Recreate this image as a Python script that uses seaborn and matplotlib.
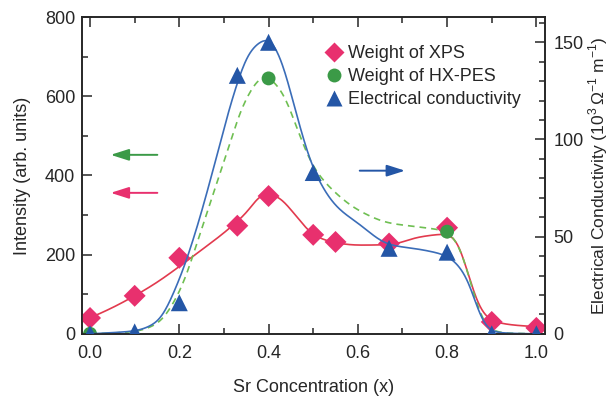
import numpy as np
import matplotlib.pyplot as plt
import pandas as pd
import seaborn as sns
from matplotlib.lines import Line2D
from matplotlib.ticker import MultipleLocator

# measured points
x_xps = [0.0, 0.1, 0.2, 0.33, 0.4, 0.5, 0.55, 0.67, 0.8, 0.9, 1.0]
y_xps = [40, 96, 192, 273, 348, 250, 232, 228, 268, 30, 15]

x_hx = [0.0, 0.4, 0.8]
y_hx = [0, 645, 258]

x_cond = [0.0, 0.1, 0.2, 0.33, 0.4, 0.5, 0.67, 0.8, 0.9, 1.0]
y_cond = [0, 1, 16, 133, 150, 83, 44, 42, 0, 0]

# guide curves
cx_xps = [0.0, 0.05, 0.1, 0.15, 0.2, 0.25, 0.3, 0.35, 0.39, 0.42, 0.46, 0.5, 0.55, 0.6, 0.67, 0.74, 0.8, 0.82, 0.85, 0.875, 0.9, 0.95, 1.0]
cy_xps = [40, 66, 96, 130, 170, 212, 255, 305, 355, 347, 300, 250, 230, 224, 225, 245, 252, 240, 140, 60, 33, 22, 18]

cx_hx = [0.0, 0.05, 0.1, 0.15, 0.2, 0.25, 0.3, 0.35, 0.39, 0.43, 0.47, 0.5, 0.55, 0.6, 0.67, 0.75, 0.8, 0.83, 0.85, 0.865, 0.89, 0.93, 1.0]
cy_hx = [0, 2, 6, 25, 105, 265, 435, 595, 652, 612, 500, 422, 356, 313, 280, 268, 258, 215, 140, 80, 15, 2, 0]

cx_cond = [0.0, 0.05, 0.1, 0.15, 0.2, 0.24, 0.28, 0.32, 0.36, 0.4, 0.43, 0.46, 0.5, 0.55, 0.6, 0.67, 0.75, 0.8, 0.83, 0.85, 0.865, 0.88, 0.9, 0.95, 1.0]
cy_cond = [0, 0.6, 1.5, 6, 28, 55, 88, 122, 146, 152, 140, 115, 85, 66, 57, 46, 43, 40, 34, 26, 15, 6, 1.2, 0.2, 0]


def pchip(xk, yk, xs):
    # shape preserving cubic through the read points
    xk = np.asarray(xk, float)
    yk = np.asarray(yk, float)
    h = np.diff(xk)
    d = np.diff(yk) / h
    m = np.zeros_like(yk)
    for i in range(1, len(xk) - 1):
        if d[i - 1] * d[i] > 0:
            w1 = 2 * h[i] + h[i - 1]
            w2 = h[i] + 2 * h[i - 1]
            m[i] = (w1 + w2) / (w1 / d[i - 1] + w2 / d[i])
    m[0] = d[0]
    m[-1] = d[-1]
    idx = np.clip(np.searchsorted(xk, xs) - 1, 0, len(h) - 1)
    t = (xs - xk[idx]) / h[idx]
    h00 = 2 * t**3 - 3 * t**2 + 1
    h10 = t**3 - 2 * t**2 + t
    h01 = -2 * t**3 + 3 * t**2
    h11 = t**3 - t**2
    return h00 * yk[idx] + h10 * h[idx] * m[idx] + h01 * yk[idx + 1] + h11 * h[idx] * m[idx + 1]


def smooth(y, sig=6):
    # soften the corners left at the knots
    k = np.arange(-3 * sig, 3 * sig + 1)
    w = np.exp(-0.5 * (k / sig) ** 2)
    w /= w.sum()
    yp = np.pad(y, 3 * sig, mode='edge')
    return np.convolve(yp, w, mode='valid')


sns.set_style("ticks")
plt.rcParams['font.family'] = ['Liberation Sans', 'DejaVu Sans']
plt.rcParams['mathtext.fontset'] = 'custom'
plt.rcParams['mathtext.rm'] = 'Liberation Sans'

pink = '#e8306e'
red = '#e23a4e'
green = '#3b9a47'
green_l = '#6fbf52'
blue = '#2456a6'
blue_l = '#3b6db8'

fig = plt.figure(figsize=(6.12, 3.96), dpi=100)
ax = fig.add_axes([0.134, 0.157, 0.757, 0.800])
ax2 = ax.twinx()

xs = np.linspace(0, 1, 500)
df_curves = pd.DataFrame({
    'x': xs,
    'xps': smooth(pchip(cx_xps, cy_xps, xs)),
    'hx': smooth(pchip(cx_hx, cy_hx, xs)),
    'cond': smooth(pchip(cx_cond, cy_cond, xs)),
})

sns.lineplot(data=df_curves, x='x', y='xps', ax=ax, color=red, lw=1.2)
sns.lineplot(data=df_curves, x='x', y='hx', ax=ax, color=green_l, lw=1.2, linestyle=(0, (4, 3)))
sns.lineplot(data=df_curves, x='x', y='cond', ax=ax2, color=blue_l, lw=1.2)

sns.scatterplot(x=x_xps, y=y_xps, ax=ax, marker='D', s=125, color=pink, edgecolor='none', zorder=5)
sns.scatterplot(x=x_hx, y=y_hx, ax=ax, marker='o', s=100, color=green, edgecolor='none', zorder=5)
sns.scatterplot(x=x_cond, y=y_cond, ax=ax2, marker='^', s=150, color=blue, edgecolor='none', zorder=5)

ax.set_xlim(-0.018, 1.02)
ax.set_ylim(0, 800)
ax2.set_ylim(0, 163)

ax.xaxis.set_major_locator(MultipleLocator(0.2))
ax.xaxis.set_minor_locator(MultipleLocator(0.1))
ax.yaxis.set_major_locator(MultipleLocator(200))
ax.yaxis.set_minor_locator(MultipleLocator(100))
ax2.yaxis.set_major_locator(MultipleLocator(50))
ax2.yaxis.set_minor_locator(MultipleLocator(10))
ax.xaxis.set_major_formatter(plt.FuncFormatter(lambda v, p: f'{v:.1f}'))

ax.tick_params(axis='x', which='both', direction='in', top=True, labelsize=13, width=1.1, pad=8)
ax.tick_params(axis='y', which='both', direction='in', right=False, labelsize=13, width=1.1, pad=5)
ax.tick_params(which='major', length=7)
ax.tick_params(which='minor', length=4)
ax2.tick_params(axis='y', which='both', direction='in', labelsize=13, width=1.1, pad=6)
ax2.tick_params(which='major', length=7)
ax2.tick_params(which='minor', length=4)
for a in (ax, ax2):
    for s in a.spines.values():
        s.set_linewidth(1.2)
        s.set_visible(True)

ax.set_xlabel('Sr Concentration (x)', fontsize=13, labelpad=12)
ax.set_ylabel('Intensity (arb. units)', fontsize=13, labelpad=10)
ax2.set_ylabel(r'Electrical Conductivity (10$^3\,\Omega^{-1}$ m$^{-1}$)', fontsize=12.5, labelpad=2)

# arrows pointing to the axes
head = '-|>,head_length=1.1,head_width=0.35'
ax.annotate('', xy=(0.04, 452), xytext=(0.157, 452),
            arrowprops=dict(arrowstyle=head, color=green, lw=1.4))
ax.annotate('', xy=(0.04, 356), xytext=(0.157, 356),
            arrowprops=dict(arrowstyle=head, color=pink, lw=1.4))
ax.annotate('', xy=(0.712, 412), xytext=(0.598, 412),
            arrowprops=dict(arrowstyle=head, color=blue, lw=1.4))

handles = [
    Line2D([], [], ls='none', marker='D', ms=10, color=pink, mec='none', label='Weight of XPS'),
    Line2D([], [], ls='none', marker='o', ms=10, color=green, mec='none', label='Weight of HX-PES'),
    Line2D([], [], ls='none', marker='^', ms=11, color=blue, mec='none', label='Electrical conductivity'),
]
ax.legend(handles=handles, loc='upper left', bbox_to_anchor=(0.5, 0.935), frameon=False,
          fontsize=13, handletextpad=0.1, handlelength=1.4, labelspacing=0.35, borderaxespad=0)

fig.savefig('out.png', dpi=100)
